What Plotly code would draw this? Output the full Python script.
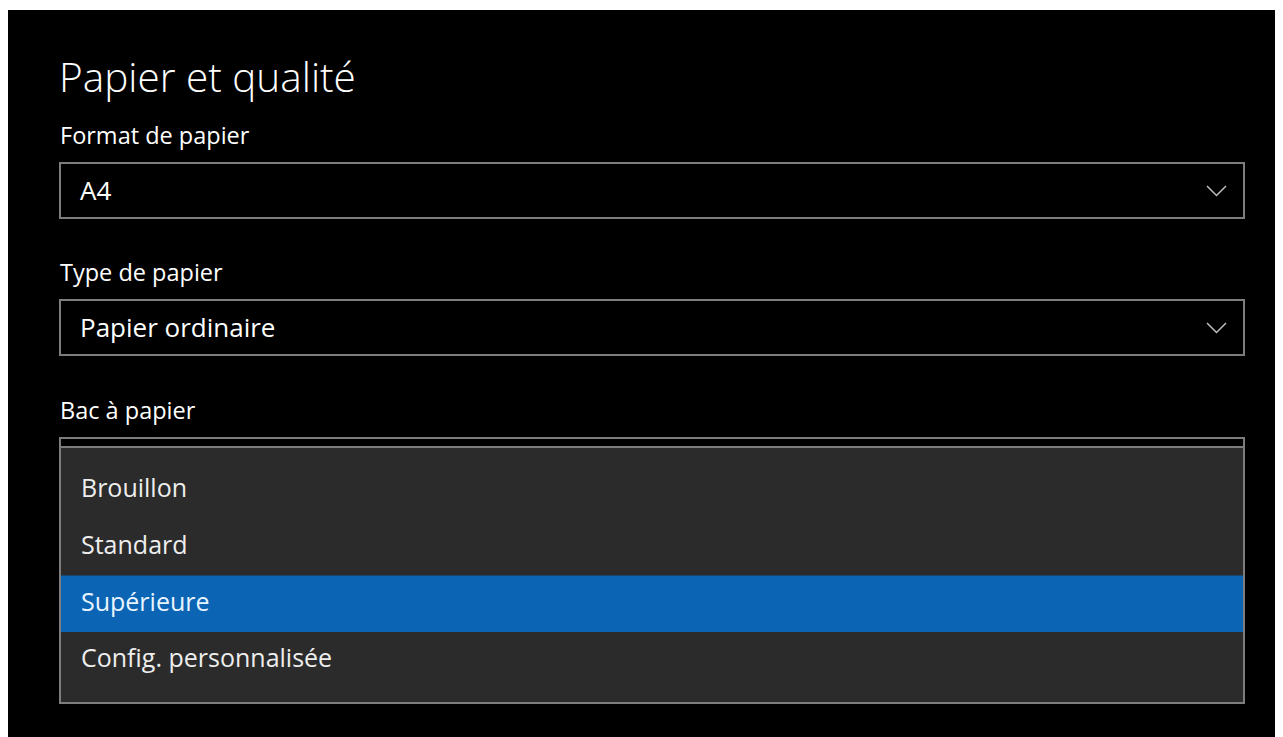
import plotly.graph_objects as go

# ---- content ----
title = "Papier et qualité"
field_labels = ["Format de papier", "Type de papier", "Bac à papier"]
field_values = ["A4", "Papier ordinaire", ""]
options = ["Brouillon", "Standard", "Supérieure", "Config. personnalisée"]
selected = "Supérieure"

# ---- layout constants (screen pixel space; page body has an 8px margin) ----
W, H = 1283, 737
BODY = 8
LEFT, RIGHT = 60, 1244
box_top = [163, 300, 438]
box_h = 55
list_top, list_bottom = 447, 703
row_top0, row_h = 462, 56.7

BORDER = "#7d7d7d"
PANEL = "#2b2b2b"
ACCENT = "#0b64b4"
FONT = "Open Sans"

fig = go.Figure()
shapes = []
ann = []

# black canvas (white edge at top/left)
shapes.append(dict(type="rect", x0=7, y0=10, x1=W + 5, y1=H + 5,
                   fillcolor="#000000", line=dict(width=0), layer="below"))

ann.append(dict(x=LEFT - 3, y=76.5, text=title, xanchor="left", yanchor="middle",
                showarrow=False, font=dict(family=FONT, size=40.5, color="#ffffff", weight=300)))

for i, (lab, val) in enumerate(zip(field_labels, field_values)):
    t = box_top[i]
    ann.append(dict(x=LEFT - 2, y=t - 28.5, text=lab, xanchor="left", yanchor="middle",
                    showarrow=False, font=dict(family=FONT, size=23.5, color="#ffffff")))
    shapes.append(dict(type="rect", x0=LEFT, y0=t, x1=RIGHT, y1=t + box_h,
                       fillcolor="#000000", line=dict(color=BORDER, width=2), layer="below"))
    if val:
        ann.append(dict(x=LEFT + 18, y=t + box_h / 2 - 1, text=val, xanchor="left", yanchor="middle",
                        showarrow=False, font=dict(family=FONT, size=26, color="#ffffff")))
    if i < 2:
        cy = t + box_h / 2
        fig.add_trace(go.Scatter(x=[1207, 1216.5, 1226], y=[cy - 4.5, cy + 5, cy - 4.5],
                                 mode="lines", line=dict(color="#bdbdbd", width=1.5),
                                 hoverinfo="skip", showlegend=False))

# dropdown list
shapes.append(dict(type="rect", x0=LEFT, y0=list_top, x1=RIGHT, y1=list_bottom,
                   fillcolor=PANEL, line=dict(color=BORDER, width=2), layer="below"))
for i, opt in enumerate(options):
    r0 = row_top0 + i * row_h
    if opt == selected:
        shapes.append(dict(type="rect", x0=LEFT + 1, y0=r0, x1=RIGHT - 1, y1=r0 + row_h,
                           fillcolor=ACCENT, line=dict(width=0), layer="below"))
    ann.append(dict(x=LEFT + 19, y=r0 + row_h / 2 - 3, text=opt, xanchor="left", yanchor="middle",
                    showarrow=False,
                    font=dict(family=FONT, size=25,
                              color="#e8f4ff" if opt == selected else "#eeeeee")))

fig.update_layout(
    width=W - BODY, height=H - BODY, margin=dict(l=0, r=0, t=0, b=0),
    paper_bgcolor="#ffffff", plot_bgcolor="#ffffff",
    xaxis=dict(range=[BODY, W], visible=False, fixedrange=True),
    yaxis=dict(range=[H, BODY], visible=False, fixedrange=True),
    shapes=shapes, annotations=ann, showlegend=False,
)
fig.write_html("out.html")
